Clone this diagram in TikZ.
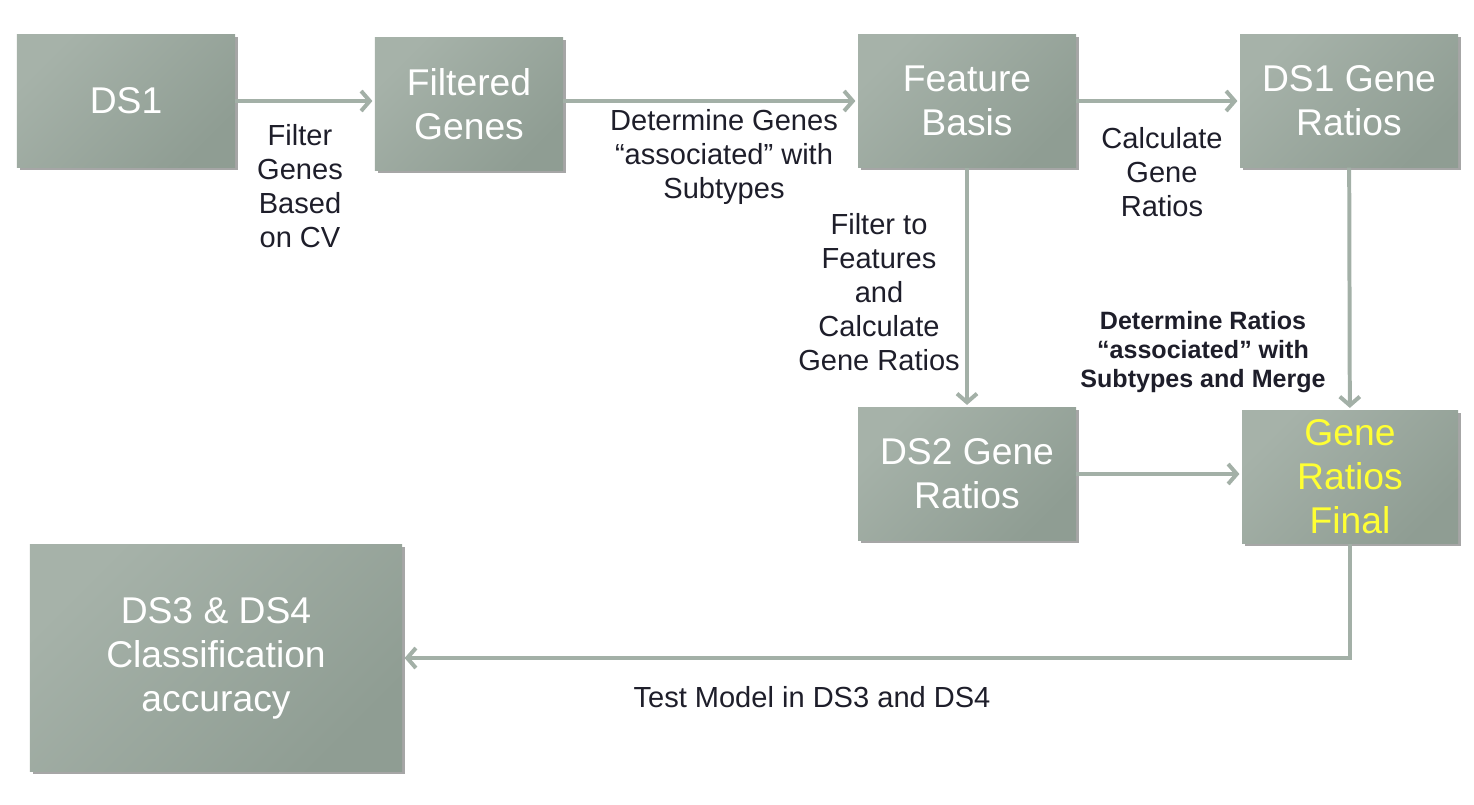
\documentclass[tikz,border=0pt]{standalone}
\usepackage{fontspec}
\setmainfont{Liberation Sans}
\usetikzlibrary{arrows.meta,positioning,shadows}
\definecolor{flowbox}{RGB}{166,178,169}
\definecolor{flowboxdark}{RGB}{143,157,147}
\definecolor{flowline}{RGB}{163,176,167}
\definecolor{flowtext}{RGB}{30,30,42}
\definecolor{flowyellow}{RGB}{255,255,51}

\begin{document}
\begin{tikzpicture}[
    x=0.03cm, y=-0.03cm,
    box/.style={rectangle, top color=flowbox, middle color=flowbox, bottom color=flowboxdark, shading angle=45, minimum width=6.54cm, minimum height=3.99cm, align=center, text=white, font=\fontsize{31.8}{37.5}\selectfont, drop shadow={shadow xshift=2.5pt, shadow yshift=-2.5pt, fill=black, opacity=0.35}},
    lbl/.style={align=center, inner sep=0pt, text=flowtext, font=\fontsize{24.8}{29}\selectfont},
    boldlbl/.style={lbl, font=\fontsize{21.4}{24.8}\selectfont\bfseries},
    arrow/.style={-{Straight Barb[length=2.6mm, width=6mm]}, line width=3.4pt, draw=flowline, shorten >=2pt}
]
    \useasboundingbox (0,0) rectangle (1474,804);

    \node[box] (ds1) at (126,101) {DS1};
    \node[box, minimum width=5.64cm] (filtered) at (469,104) {Filtered\\Genes};
    \node[box] (feature) at (967,101) {Feature\\Basis};
    \node[box] (ds1ratios) at (1349,101) {DS1 Gene\\Ratios};
    \node[box] (ds2ratios) at (967,474) {DS2 Gene\\Ratios};
    \node[box, text=flowyellow, minimum width=6.48cm] (final) at (1350,477) {Gene\\Ratios\\Final};
    \node[box, minimum width=11.16cm, minimum height=6.81cm] (ds3) at (216,658) {DS3 \& DS4\\Classification\\accuracy};

    \node[lbl] (cvlbl) at (300,186) {Filter\\Genes\\Based\\on CV};
    \node[lbl] (assoclbl) at (724,157) {Determine Genes\\“associated” with\\Subtypes};
    \node[lbl] (calclbl) at (1162,172) {Calculate\\Gene\\Ratios};
    \node[lbl] (filterlbl) at (879,292) {Filter to\\Features\\and\\Calculate\\Gene Ratios};
    \node[boldlbl] (mergelbl) at (1203,352) {Determine Ratios\\“associated” with\\Subtypes and Merge};
    \node[lbl] (testlbl) at (812,697) {Test Model in DS3 and DS4};

    \draw[arrow] (ds1.east) -- (ds1.east -| filtered.west);
    \draw[arrow] (filtered.east |- feature.west) -- (feature.west);
    \draw[arrow] (feature) -- (ds1ratios);
    \draw[arrow] (feature) -- (ds2ratios);
    \draw[arrow] (ds2ratios.east) -- (ds2ratios.east -| final.west);
    \draw[arrow] (ds1ratios) -- (final);
    \draw[arrow] (final.south) |- (ds3.east);
\end{tikzpicture}
\end{document}
